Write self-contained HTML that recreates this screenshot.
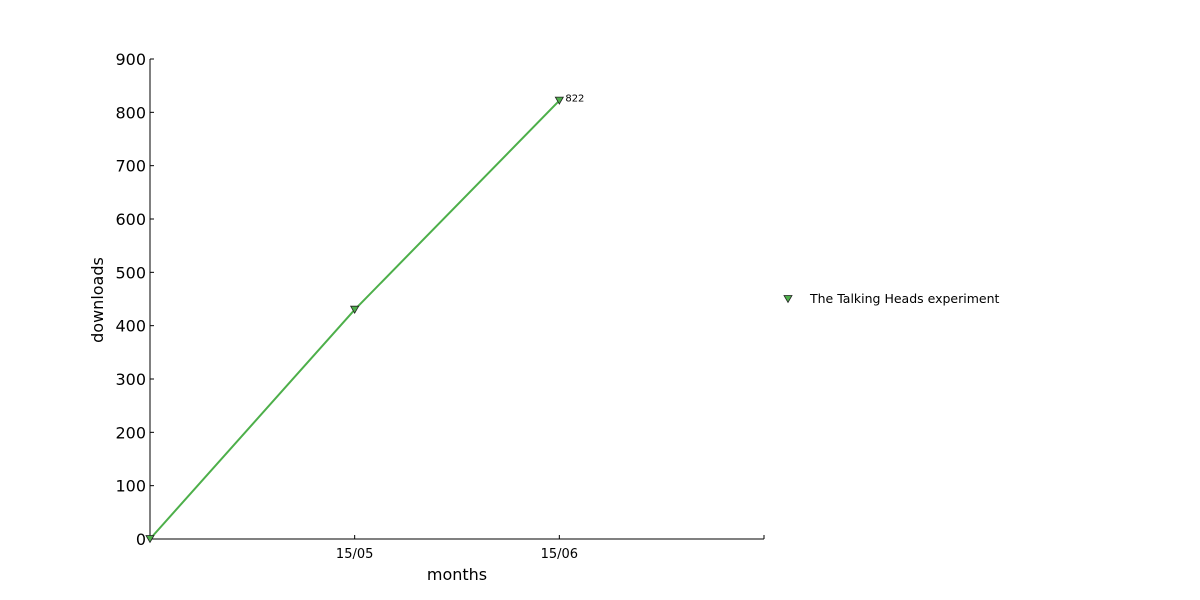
<!DOCTYPE html>
<html><head><meta charset="utf-8"><style>body{margin:0;background:#fff}svg{display:block;font-family:"DejaVu Sans","Liberation Sans",sans-serif}</style></head>
<body>
<svg id="chart" width="1200" height="600"></svg>
<script>
const categories = ["", "15/05", "15/06"];
const values = [0, 430, 822];
const yTicks = [0,100,200,300,400,500,600,700,800,900];
const xTickIdx = [1, 2];
const labelIdx = 2;
const seriesName = "The Talking Heads experiment";

const L=150,R=764,T=59,B=539,xMax=3,yMax=900;
const xs=i=>L+(R-L)*i/xMax, ys=v=>B-(B-T)*v/yMax;
const svg=document.getElementById('chart');const NS='http://www.w3.org/2000/svg';
function mk(t,a,txt){const e=document.createElementNS(NS,t);for(const k in a)e.setAttribute(k,a[k]);if(txt!=null)e.textContent=txt;svg.appendChild(e);return e;}
let e;
e=mk('line',{x1:L,y1:T,x2:L,y2:B,stroke:'#000','stroke-width':1});


e=mk('line',{x1:L,y1:B,x2:R,y2:B,stroke:'#000','stroke-width':1});


yTicks.forEach(v=>{const y=ys(v);
 e=mk('line',{x1:L,y1:y,x2:L+4,y2:y,stroke:'#000'});
 
 
 e=mk('text',{x:L-4,y:y+6,'text-anchor':'end','font-size':16},v);
 
 
});
xTickIdx.forEach(i=>{const x=xs(i);
 e=mk('line',{x1:x,y1:B,x2:x,y2:B-4,stroke:'#000'});
 
 
 e=mk('text',{x:x,y:B+19,'text-anchor':'middle','font-size':13},categories[i]);
 
 
});
e=mk('line',{x1:R,y1:B,x2:R,y2:B-4,stroke:'#000'});


e=mk('text',{x:457,y:580,'text-anchor':'middle','font-size':16},'months');


e=mk('text',{x:0,y:0,'text-anchor':'middle','font-size':16,transform:'translate(103,300) rotate(-90)'},'downloads');


e=mk('polyline',{points:values.map((v,i)=>xs(i)+','+ys(v)).join(' '),fill:'none',stroke:'#4daf4a','stroke-width':2});


function tri(x,y){return `${x-4},${y-3.5} ${x+4},${y-3.5} ${x},${y+3.5}`;}
values.forEach((v,i)=>{
 e=mk('polygon',{points:tri(xs(i),ys(v)),fill:'#4daf4a',stroke:'#222','stroke-width':0.8});
 
 
});
e=mk('text',{x:xs(labelIdx)+6,y:ys(values[labelIdx])+1,'font-size':10},values[labelIdx]);


e=mk('polygon',{points:tri(788,299),fill:'#4daf4a',stroke:'#222','stroke-width':0.8});


e=mk('text',{x:810,y:303,'font-size':12.5},seriesName);


</script>
</body></html>
